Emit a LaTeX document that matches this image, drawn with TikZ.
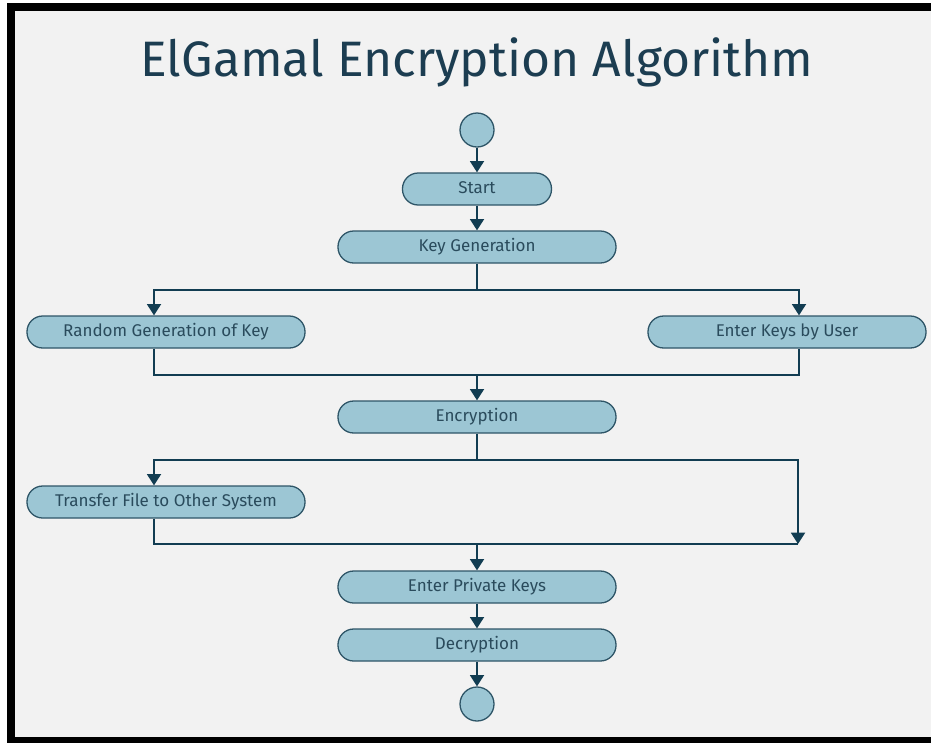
\documentclass[tikz,border=0pt]{standalone}
\usepackage{fontspec}
\setmainfont{Fira Sans}
\usetikzlibrary{arrows.meta,positioning,shapes}
\definecolor{boxblue}{HTML}{9CC6D4}
\definecolor{boxline}{HTML}{2E5567}
\definecolor{arrline}{HTML}{123D52}
\definecolor{txtteal}{HTML}{2A4B5C}
\definecolor{titleteal}{HTML}{1C3D51}
\definecolor{bggray}{HTML}{F2F2F2}

\begin{document}
\begin{tikzpicture}
[x=0.03cm, y=-0.03cm,
term/.style ={circle, draw=boxline, fill=boxblue, line width=1.1pt,
minimum size=1.02cm, inner sep=0pt},
act/.style ={draw=boxline, fill=boxblue, line width=1.1pt, rounded corners=0.47cm,
minimum height=0.96cm, minimum width=8.34cm, text=txtteal, inner sep=0pt,
text height=1.75ex, text depth=0.2ex,
font=\fontsize{14.5}{16}\selectfont},
line/.style ={draw=arrline, line width=1.6pt},
arr/.style ={line, -{Triangle[width=0.42cm,length=0.34cm]}}]
% frame and background
\useasboundingbox (0,0) rectangle (931,743);
\fill[white] (0,0) rectangle (931,743);
\fill[black] (7,3) rectangle (931,743);
\fill[bggray] (15,11) rectangle (931,737);

\node [text=titleteal, font=\fontsize{42.5}{48}\selectfont] (title) at (477,62) {ElGamal Encryption Algorithm};

\node [term]                      (s)    at (477, 130)     {};
\node [act, minimum width=4.47cm] (st)   at (477, 189)     {Start};
\node [act]                       (kg)   at (477, 247)     {Key Generation};
\node [act]                       (rg)   at (166, 332)     {Random Generation of Key};
\node [act]                       (eu)   at (787, 332)     {Enter Keys by User};
\node [act]                       (enc)  at (477, 417)     {Encryption};
\node [act]                       (tf)   at (166, 502)     {Transfer File to Other System};
\node [act]                       (epk)  at (477, 587)     {Enter Private Keys};
\node [act]                       (dec)  at (477, 645)     {Decryption};
\node [term]                      (e)    at (477, 704)     {};

\coordinate (j1) at (477, 290);
\coordinate (m1) at (477, 375);
\coordinate (j2) at (477, 460);
\coordinate (m2) at (477, 544);
\coordinate (r2) at (798, 544);

\draw [arr] (s) to (st);
\draw [arr] (st) to (kg);

\draw [line] (kg) to (j1);
\draw [arr] (j1) -| ([xshift=-0.36cm]rg.north);
\draw [arr] (j1) -| ([xshift=0.36cm]eu.north);
\draw [line] ([xshift=-0.36cm]rg.south) |- (m1) -| ([xshift=0.36cm]eu.south);
\draw [arr] (m1) to (enc);

\draw [line] (enc) to (j2);
\draw [arr] (j2) -| ([xshift=-0.36cm]tf.north);
\draw [arr] (j2) -| (r2);
\draw [line] ([xshift=-0.36cm]tf.south) |- (r2);
\draw [arr] (m2) to (epk);

\draw [arr] (epk) to (dec);
\draw [arr] (dec) to (e);

\end{tikzpicture}
\end{document}
